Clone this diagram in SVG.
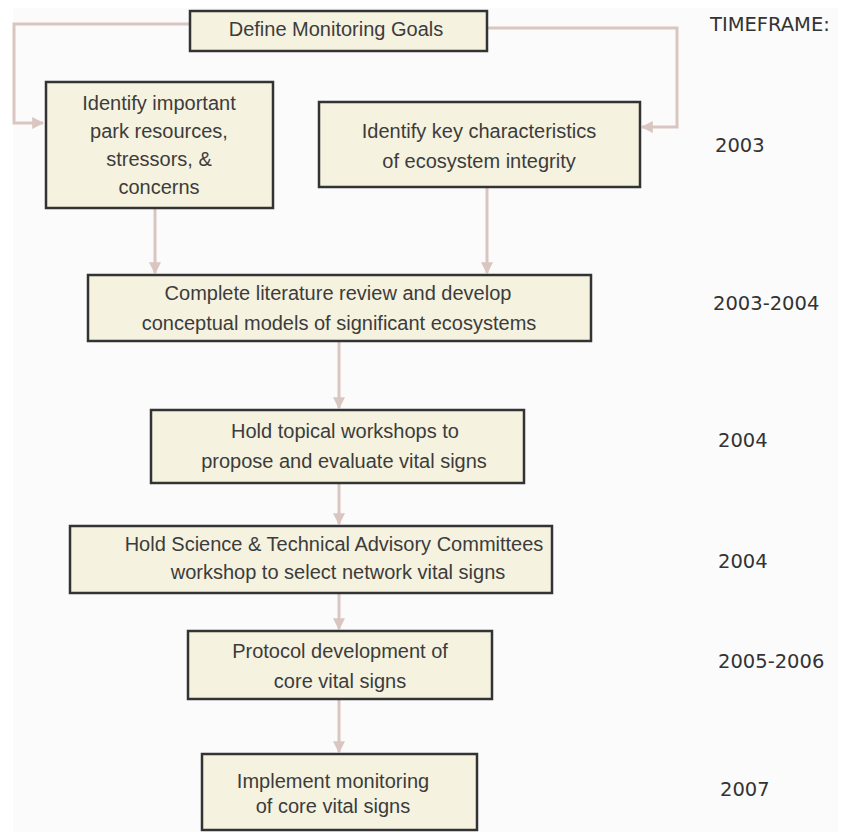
<svg xmlns="http://www.w3.org/2000/svg" width="842" height="832" viewBox="0 0 842 832">
  <defs>
    <marker id="arrow" viewBox="0 0 10 10" refX="9" refY="5" markerWidth="4" markerHeight="4" orient="auto" markerUnits="strokeWidth">
      <path d="M0,0 L10,5 L0,10 z" fill="#d9c6c1"/>
    </marker>
    <style>
      .box { fill: #f5f2df; stroke: #333; stroke-width: 2.5; }
      .lbl { font-family: "Liberation Sans", Arial, sans-serif; font-size: 20px; fill: #3c3c3c; text-anchor: middle; }
      .time { font-family: "DejaVu Sans", Verdana, sans-serif; font-size: 19.5px; fill: #333; }
      .conn { fill: none; stroke: #d9c6c1; stroke-width: 3; }
    </style>
  </defs>

  <rect x="0" y="0" width="842" height="832" fill="#ffffff"/>
  <rect x="13" y="8" width="825" height="824" fill="#fbfbfb"/>

  <!-- connectors -->
  <g id="connectors">
    <path class="conn" d="M190,24 H14 V123 H43" marker-end="url(#arrow)"/>
    <path class="conn" d="M487,28 H677 V127 H642" marker-end="url(#arrow)"/>
    <path class="conn" d="M155,209 V273" marker-end="url(#arrow)"/>
    <path class="conn" d="M487,187 V273" marker-end="url(#arrow)"/>
    <path class="conn" d="M339,341 V408" marker-end="url(#arrow)"/>
    <path class="conn" d="M339,483 V524" marker-end="url(#arrow)"/>
    <path class="conn" d="M339,593 V629" marker-end="url(#arrow)"/>
    <path class="conn" d="M339,699 V752" marker-end="url(#arrow)"/>
  </g>

  <g id="define-goals">
    <rect class="box" x="190" y="11" width="297" height="40"/>
    <text class="lbl" x="336" y="36">Define Monitoring Goals</text>
  </g>

  <g id="identify-resources">
    <rect class="box" x="46" y="82" width="227" height="126"/>
    <text class="lbl" x="159" y="110">Identify important</text>
    <text class="lbl" x="159" y="138">park resources,</text>
    <text class="lbl" x="159" y="166">stressors, &amp;</text>
    <text class="lbl" x="159" y="194">concerns</text>
  </g>

  <g id="identify-characteristics">
    <rect class="box" x="319" y="102" width="321" height="85"/>
    <text class="lbl" x="479" y="138">Identify key characteristics</text>
    <text class="lbl" x="479" y="168">of ecosystem integrity</text>
  </g>

  <g id="literature-review">
    <rect class="box" x="88" y="275" width="503" height="66"/>
    <text class="lbl" x="338" y="300">Complete literature review and develop</text>
    <text class="lbl" x="339" y="330">conceptual models of significant ecosystems</text>
  </g>

  <g id="topical-workshops">
    <rect class="box" x="151" y="410" width="373" height="73"/>
    <text class="lbl" x="345" y="438">Hold topical workshops to</text>
    <text class="lbl" x="344" y="468">propose and evaluate vital signs</text>
  </g>

  <g id="advisory-committees">
    <rect class="box" x="70" y="526" width="482" height="67"/>
    <text class="lbl" x="334" y="551">Hold Science &amp; Technical Advisory Committees</text>
    <text class="lbl" x="338" y="579">workshop to select network vital signs</text>
  </g>

  <g id="protocol-development">
    <rect class="box" x="188" y="631" width="304" height="68"/>
    <text class="lbl" x="340" y="658">Protocol development of</text>
    <text class="lbl" x="340" y="688">core vital signs</text>
  </g>

  <g id="implement-monitoring">
    <rect class="box" x="202" y="754" width="275" height="76"/>
    <text class="lbl" x="333" y="788">Implement monitoring</text>
    <text class="lbl" x="333" y="813">of core vital signs</text>
  </g>

  <!-- timeframe column -->
  <g id="timeframe">
    <text class="time" x="710" y="31">TIMEFRAME:</text>
    <text class="time" x="715" y="152">2003</text>
    <text class="time" x="713" y="310">2003-2004</text>
    <text class="time" x="718" y="447">2004</text>
    <text class="time" x="718" y="568">2004</text>
    <text class="time" x="718" y="668">2005-2006</text>
    <text class="time" x="720" y="796">2007</text>
  </g>
</svg>
